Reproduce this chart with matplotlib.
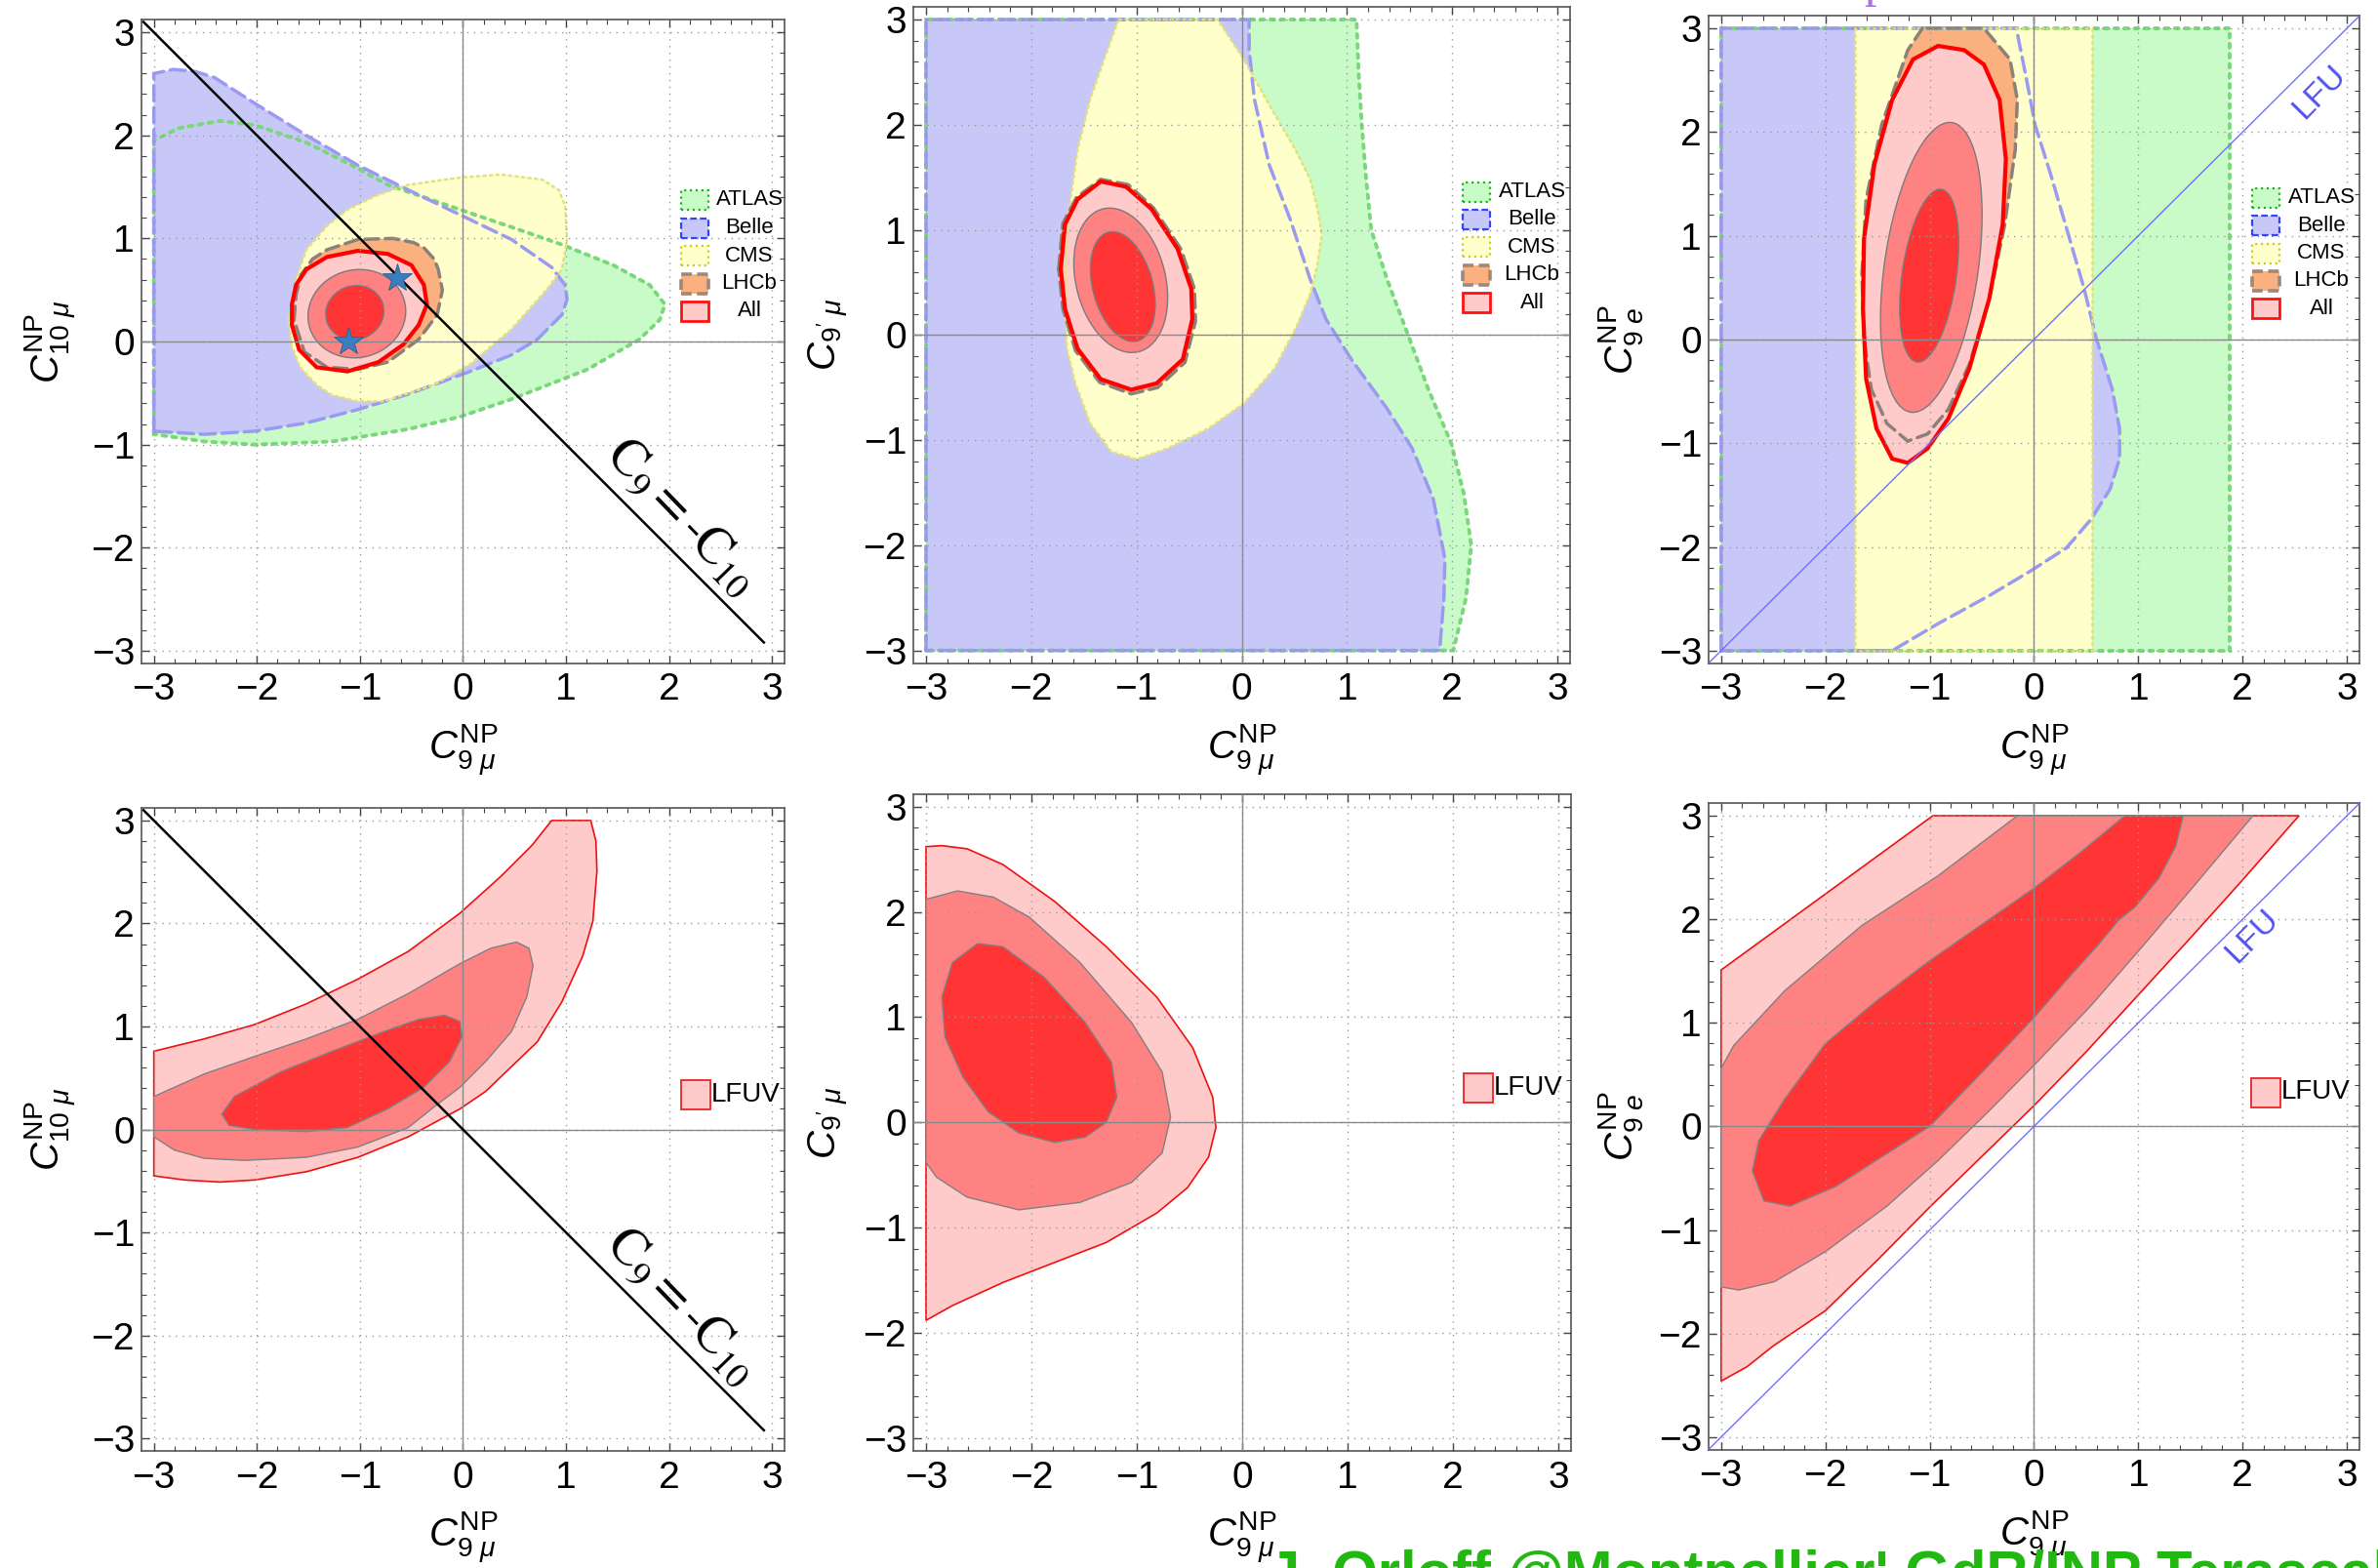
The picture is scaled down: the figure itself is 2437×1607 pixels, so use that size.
import matplotlib.pyplot as plt
from matplotlib.patches import Polygon, Ellipse, Rectangle
from matplotlib.ticker import MultipleLocator

plt.rcParams['font.family'] = ['Liberation Sans', 'DejaVu Sans']
plt.rcParams['mathtext.fontset'] = 'custom'
plt.rcParams['mathtext.rm'] = 'Liberation Sans'
plt.rcParams['mathtext.it'] = 'Liberation Sans:italic'
plt.rcParams['mathtext.bf'] = 'Liberation Sans:bold'

W, H = 2437, 1607

# ---------------- data ----------------
# panel a : C9mu vs C10mu, experiments
atlas_a = [(-3.0, -0.90), (-3.0, 1.95), (-2.76, 2.07), (-2.36, 2.14), (-2.02, 2.10), (-1.52, 1.93),
           (-1.12, 1.73), (-0.73, 1.52), (-0.03, 1.28), (0.47, 1.11), (0.96, 0.94), (1.46, 0.74),
           (1.81, 0.55), (1.96, 0.36), (1.91, 0.21), (1.71, 0.02), (1.21, -0.27), (0.47, -0.56),
           (-0.03, -0.73), (-0.53, -0.85), (-1.27, -0.97), (-2.02, -1.00), (-2.51, -0.97)]
belle_a = [(-3.0, -0.87), (-3.0, 2.60), (-2.81, 2.64), (-2.60, 2.62), (-2.41, 2.56), (-2.02, 2.31),
           (-1.52, 2.00), (-1.02, 1.71), (-0.53, 1.47), (-0.03, 1.23), (0.47, 0.99), (0.86, 0.72),
           (0.99, 0.55), (1.01, 0.41), (0.96, 0.26), (0.72, 0.02), (0.47, -0.13), (0.07, -0.29),
           (-0.53, -0.51), (-1.02, -0.66), (-1.52, -0.79), (-2.02, -0.87), (-2.51, -0.90)]
cms_a = [(-1.69, 0.21), (-1.62, 0.60), (-1.52, 0.89), (-1.32, 1.12), (-1.12, 1.28), (-0.83, 1.42),
         (-0.53, 1.52), (-0.03, 1.59), (0.37, 1.62), (0.77, 1.57), (0.93, 1.47), (0.99, 1.32),
         (1.01, 0.99), (0.96, 0.70), (0.81, 0.50), (0.47, 0.12), (0.07, -0.22), (-0.28, -0.42),
         (-0.77, -0.58), (-1.02, -0.58), (-1.27, -0.52), (-1.42, -0.42), (-1.58, -0.25), (-1.66, -0.05)]
lhcb_a = [(-1.64, 0.21), (-1.62, 0.45), (-1.57, 0.65), (-1.46, 0.80), (-1.32, 0.89), (-1.02, 0.99),
          (-0.68, 1.00), (-0.48, 0.96), (-0.38, 0.91), (-0.28, 0.80), (-0.24, 0.70), (-0.20, 0.50),
          (-0.25, 0.26), (-0.43, 0.02), (-0.73, -0.20), (-1.02, -0.27), (-1.32, -0.25), (-1.54, -0.10)]
all3_a = [(-1.66, 0.36), (-1.62, 0.55), (-1.52, 0.70), (-1.32, 0.82), (-1.02, 0.88), (-0.73, 0.85),
          (-0.50, 0.74), (-0.38, 0.55), (-0.35, 0.36), (-0.43, 0.16), (-0.58, -0.03), (-0.82, -0.20),
          (-1.12, -0.29), (-1.42, -0.25), (-1.59, -0.08), (-1.66, 0.16)]
# inner contours as (centre x, centre y, width, height, angle)
all2_a = (-1.03, 0.27, 0.955, 0.85, 15)
all1_a = (-1.05, 0.28, 0.57, 0.52, 20)
best_x = [-1.11, -0.64]
best_y = [0.00, 0.62]

# panel b : C9mu vs C9'mu
atlas_b = [(-3, -3), (-3, 3), (1.09, 3), (1.11, 2.5), (1.14, 2.0), (1.18, 1.5), (1.23, 1.0), (1.38, 0.53),
           (1.58, 0.0), (1.77, -0.51), (1.99, -1.03), (2.11, -1.51), (2.18, -2.0), (2.13, -2.5), (2.01, -3)]
belle_b = [(-3, -3), (-3, 3), (0.07, 3), (0.07, 2.71), (0.12, 2.24), (0.26, 1.62), (0.46, 1.10),
           (0.65, 0.53), (0.80, 0.15), (1.04, -0.23), (1.38, -0.70), (1.62, -1.08), (1.82, -1.56),
           (1.93, -2.13), (1.92, -2.50), (1.88, -3)]
cms_b = [(-1.17, 3), (-0.23, 3), (0.02, 2.62), (0.26, 2.19), (0.51, 1.76), (0.65, 1.48), (0.72, 1.20),
         (0.76, 0.96), (0.72, 0.67), (0.65, 0.39), (0.51, 0.06), (0.31, -0.32), (0.02, -0.65),
         (-0.32, -0.89), (-0.71, -1.08), (-1.00, -1.18), (-1.24, -1.11), (-1.44, -0.84), (-1.58, -0.46),
         (-1.66, -0.13), (-1.68, 0.34), (-1.66, 1.05), (-1.56, 1.76), (-1.44, 2.24), (-1.29, 2.67)]
lhcb_b = [(-1.74, 0.63), (-1.70, 1.06), (-1.57, 1.31), (-1.34, 1.48), (-1.08, 1.43), (-0.84, 1.21),
          (-0.58, 0.82), (-0.45, 0.44), (-0.44, 0.13), (-0.54, -0.26), (-0.80, -0.50), (-1.05, -0.56),
          (-1.35, -0.45), (-1.58, -0.15), (-1.70, 0.25)]
all3_b = [(-1.72, 0.63), (-1.68, 1.05), (-1.56, 1.29), (-1.34, 1.46), (-1.10, 1.41), (-0.86, 1.20),
          (-0.61, 0.82), (-0.48, 0.44), (-0.47, 0.15), (-0.56, -0.23), (-0.81, -0.46), (-1.05, -0.52),
          (-1.34, -0.42), (-1.56, -0.13), (-1.68, 0.25)]
all2_b = (-1.15, 0.52, 0.85, 1.40, 14)
all1_b = (-1.13, 0.46, 0.57, 1.07, 15)

# panel c : C9mu vs C9e
atlas_c = [(-3, -3), (-3, 3), (1.88, 3), (1.88, -3)]
cms_c = [(-1.72, -3), (-1.72, 3), (0.555, 3), (0.555, -3)]
belle_c = [(-3, -3), (-3, 3), (-0.17, 3), (-0.08, 2.55), (0.01, 2.07), (0.16, 1.59), (0.33, 1.01),
           (0.48, 0.49), (0.60, 0.0), (0.75, -0.48), (0.82, -0.86), (0.82, -1.15), (0.73, -1.44),
           (0.55, -1.73), (0.31, -2.01), (-0.03, -2.23), (-0.43, -2.47), (-0.92, -2.74), (-1.36, -3)]
lhcb_c = [(-1.07, 3), (-1.21, 2.79), (-1.46, 2.07), (-1.61, 1.35), (-1.65, 0.63), (-1.63, 0.0),
          (-1.56, -0.48), (-1.41, -0.81), (-1.21, -0.98), (-1.02, -0.91), (-0.82, -0.67), (-0.62, -0.24),
          (-0.43, 0.39), (-0.28, 1.11), (-0.18, 1.83), (-0.16, 2.31), (-0.23, 2.70), (-0.48, 3)]
all3_c = [(-0.92, 2.83), (-1.16, 2.70), (-1.36, 2.31), (-1.53, 1.69), (-1.63, 0.97), (-1.64, 0.29),
          (-1.61, -0.38), (-1.51, -0.86), (-1.36, -1.15), (-1.21, -1.19), (-1.02, -1.05), (-0.82, -0.76),
          (-0.62, -0.28), (-0.43, 0.39), (-0.30, 1.11), (-0.27, 1.74), (-0.33, 2.31), (-0.48, 2.65),
          (-0.67, 2.79)]
all2_c = (-0.985, 0.695, 0.90, 2.82, -8)
all1_c = (-1.005, 0.615, 0.52, 1.68, -8)

# panel d : LFUV fit, C9mu vs C10mu
lfuv3_d = [(-3, -0.45), (-3, 0.76), (-2.51, 0.88), (-2.02, 1.02), (-1.52, 1.22), (-1.02, 1.46),
           (-0.53, 1.73), (-0.03, 2.10), (0.37, 2.46), (0.67, 2.76), (0.86, 3.0), (1.24, 3.0),
           (1.29, 2.80), (1.30, 2.51), (1.26, 2.02), (1.16, 1.68), (0.96, 1.24), (0.72, 0.85),
           (0.47, 0.61), (0.22, 0.37), (-0.03, 0.20), (-0.53, -0.07), (-1.02, -0.27), (-1.52, -0.41),
           (-2.02, -0.49), (-2.36, -0.51), (-2.70, -0.49)]
lfuv2_d = [(-3, -0.07), (-3, 0.32), (-2.51, 0.54), (-2.02, 0.71), (-1.52, 0.88), (-1.02, 1.07),
           (-0.53, 1.32), (-0.03, 1.61), (0.27, 1.76), (0.52, 1.82), (0.64, 1.76), (0.68, 1.59),
           (0.62, 1.29), (0.47, 0.95), (0.22, 0.66), (-0.03, 0.41), (-0.28, 0.22), (-0.53, 0.02),
           (-1.02, -0.17), (-1.52, -0.27), (-2.12, -0.30), (-2.51, -0.28), (-2.80, -0.20)]
lfuv1_d = [(-2.34, 0.15), (-2.22, 0.32), (-1.77, 0.56), (-1.27, 0.76), (-0.77, 0.95), (-0.43, 1.07),
           (-0.18, 1.11), (-0.03, 1.05), (-0.01, 0.90), (-0.13, 0.66), (-0.38, 0.41), (-0.73, 0.20),
           (-1.12, 0.02), (-1.52, -0.02), (-2.02, 0.00), (-2.27, 0.04)]

# panel e : LFUV fit, C9mu vs C9'mu
lfuv3_e = [(-3, -1.88), (-3, 2.62), (-2.85, 2.63), (-2.61, 2.60), (-2.27, 2.45), (-1.78, 2.10),
           (-1.29, 1.67), (-0.81, 1.19), (-0.47, 0.71), (-0.28, 0.24), (-0.25, -0.05), (-0.32, -0.33),
           (-0.52, -0.62), (-0.81, -0.86), (-1.29, -1.14), (-1.78, -1.33), (-2.27, -1.52), (-2.75, -1.74)]
lfuv2_e = [(-3, -0.38), (-3, 2.12), (-2.70, 2.20), (-2.36, 2.14), (-2.02, 1.95), (-1.54, 1.52),
           (-1.05, 0.95), (-0.76, 0.48), (-0.68, 0.05), (-0.76, -0.29), (-1.05, -0.57), (-1.54, -0.76),
           (-2.12, -0.83), (-2.61, -0.71), (-2.90, -0.52)]
lfuv1_e = [(-2.85, 1.19), (-2.75, 1.52), (-2.51, 1.70), (-2.27, 1.67), (-1.88, 1.38), (-1.49, 0.95),
           (-1.24, 0.57), (-1.19, 0.24), (-1.29, 0.00), (-1.49, -0.14), (-1.78, -0.19), (-2.12, -0.10),
           (-2.41, 0.10), (-2.65, 0.43), (-2.82, 0.81)]

# panel f : LFUV fit, C9mu vs C9e
lfuv3_f = [(-3, -2.46), (-3, 1.51), (-0.97, 3), (2.54, 3), (2.0, 2.38), (1.5, 1.82), (1.0, 1.27),
           (0.5, 0.72), (0.0, 0.20), (-0.5, -0.29), (-1.0, -0.78), (-1.5, -1.29), (-2.0, -1.78),
           (-2.5, -2.12), (-2.75, -2.32)]
lfuv2_f = [(-3, -1.55), (-3, 0.56), (-2.88, 0.78), (-2.39, 1.31), (-1.65, 1.94), (-0.92, 2.42),
           (-0.16, 3), (2.10, 3), (1.54, 2.33), (1.05, 1.75), (0.55, 1.17), (0.0, 0.59), (-0.43, 0.15),
           (-0.92, -0.33), (-1.41, -0.77), (-2.0, -1.21), (-2.49, -1.50), (-2.83, -1.58)]
lfuv1_f = [(0.87, 3), (1.43, 3), (1.36, 2.71), (1.20, 2.40), (0.97, 2.12), (0.81, 1.99), (0.63, 1.77),
           (0.30, 1.40), (0.0, 1.05), (-0.5, 0.52), (-1.0, 0.00), (-1.5, -0.32), (-1.90, -0.58),
           (-2.34, -0.77), (-2.59, -0.72), (-2.70, -0.43), (-2.64, -0.14), (-2.40, 0.25), (-2.0, 0.80),
           (-1.5, 1.22), (-1.0, 1.60), (-0.5, 1.95), (0.0, 2.30), (0.45, 2.65)]

exp_names = ['ATLAS', 'Belle', 'CMS', 'LHCb', 'All']
sm_line = [-3.10, 2.92]       # C9 = -C10 line, x end points
lfu_line = [-3.12, 3.12]

# ---------------- styles ----------------
C_ATLAS, C_BELLE, C_CMS, C_LHCB = '#c9fbc9', '#c8c8f8', '#ffffcc', '#fbb17f'
C3, C2, C1 = '#ffcaca', '#ff8282', '#ff3535'

fig = plt.figure(figsize=(W / 100, H / 100), dpi=100)


def make_axes(rect, ylab):
    ax = fig.add_axes(rect)
    ax.set_xlim(-3.12, 3.12)
    ax.set_ylim(-3.12, 3.12)
    for a in (ax.xaxis, ax.yaxis):
        a.set_major_locator(MultipleLocator(1))
        a.set_minor_locator(MultipleLocator(0.2))
    ax.tick_params(which='both', direction='in', top=True, right=True, color='#444444', labelsize=28)
    ax.tick_params(which='major', length=6, width=1.0)
    ax.tick_params(which='minor', length=3.5, width=0.8)
    ax.tick_params(axis='x', pad=7)
    ax.tick_params(axis='y', pad=5)
    for s in ax.spines.values():
        s.set_color('#555555')
        s.set_linewidth(1.2)
    ax.grid(True, which='major', ls=(0, (1, 4)), color='#999999', lw=1.0)
    ax.set_axisbelow(False)
    ax.axhline(0, color='#8a8a8a', lw=1.0, zorder=2.6)
    ax.axvline(0, color='#8a8a8a', lw=1.0, zorder=2.6)
    ax.set_xlabel(r'$C_{9\ \mu}^{\mathrm{NP}}$', fontsize=29, labelpad=11)
    ax.set_ylabel(ylab, fontsize=29, labelpad=10)
    return ax


def fill(ax, pts, fc, z):
    ax.add_patch(Polygon(pts, closed=True, facecolor=fc, edgecolor='none', zorder=z))


def edge(ax, pts, ec, ls, lw, z):
    p = Polygon(pts, closed=True, fill=False, edgecolor=ec, linestyle=ls, linewidth=lw, zorder=z)
    p.set_capstyle('round')
    ax.add_patch(p)


def ell(ax, e, fc, z):
    ax.add_patch(Ellipse((e[0], e[1]), e[2], e[3], angle=e[4], facecolor=fc,
                         edgecolor='#7a7a7a', lw=1.0, zorder=z))


def experiments(ax, atlas, belle, cms, lhcb, all3, all2, all1):
    fill(ax, atlas, C_ATLAS, 1.00)
    fill(ax, belle, C_BELLE, 1.01)
    fill(ax, cms, C_CMS, 1.02)
    fill(ax, lhcb, C_LHCB, 1.03)
    fill(ax, all3, C3, 1.04)
    edge(ax, atlas, '#7ad87a', ':', 2.8, 1.10)
    edge(ax, belle, '#9a9af0', (0, (4.5, 2)), 2.5, 1.11)
    edge(ax, cms, '#e2e27a', ':', 1.8, 1.12)
    edge(ax, lhcb, '#8d8078', (0, (4, 2)), 2.5, 1.13)
    edge(ax, all3, '#ff0000', '-', 3.0, 1.20)
    ell(ax, all2, C2, 1.30)
    ell(ax, all1, C1, 1.40)


def lfuv(ax, c3, c2, c1):
    ax.add_patch(Polygon(c3, closed=True, facecolor=C3, edgecolor='#ee1111', lw=1.2, zorder=1.0))
    ax.add_patch(Polygon(c2, closed=True, facecolor=C2, edgecolor='#808080', lw=1.0, zorder=1.1))
    ax.add_patch(Polygon(c1, closed=True, facecolor=C1, edgecolor='#808080', lw=1.0, zorder=1.2))


def px_rect(x0, yc, w, h, fc, ec, ls, lw):
    r = Rectangle((x0 / W, 1 - (yc + h / 2) / H), w / W, h / H, transform=fig.transFigure,
                  facecolor=fc, edgecolor=ec, linestyle=ls, linewidth=lw, zorder=5)
    fig.add_artist(r)


def exp_legend(box_x, y0, step, text_x):
    styles = [(C_ATLAS, '#11bb11', ':', 1.6), (C_BELLE, '#3344ff', (0, (3, 1.5)), 1.6),
              (C_CMS, '#cccc22', ':', 1.6), (C_LHCB, '#a08878', (0, (3, 1.5)), 2.6),
              (C3, '#ff1111', '-', 2.0)]
    for i, (name, st) in enumerate(zip(exp_names, styles)):
        yc = y0 + i * step
        px_rect(box_x, yc, 28, 20, *st)
        fig.text(text_x / W, 1 - yc / H, name, fontsize=16, ha='center', va='center')


def lfuv_legend(box_x, yc):
    px_rect(box_x, yc, 30, 30, C3, '#ee2222', '-', 1.3)
    fig.text((box_x + 31) / W, 1 - yc / H, 'LFUV', fontsize=20, ha='left', va='center')


def sm_text(ax, x, y):
    ax.text(x, y, r'$\mathrm{C}_9 = \text{-}\mathrm{C}_{10}$', rotation=-46, ha='center', va='center',
            rotation_mode='anchor', fontsize=38, math_fontfamily='stix', zorder=5)


def lfu_text(ax, x, y):
    ax.text(x, y, 'LFU', rotation=45.5, ha='center', va='center', rotation_mode='anchor',
            fontsize=24, color='#5050f0', zorder=5)


lab10 = r'$C_{10\ \mu}^{\mathrm{NP}}$'
lab9p = r"$C_{9'\ \mu}$"
lab9e = r'$C_{9\ e}^{\mathrm{NP}}$'

# ---- top row ----
axa = make_axes([0.0595, 0.5771, 0.2704, 0.4102], lab10)
experiments(axa, atlas_a, belle_a, cms_a, lhcb_a, all3_a, all2_a, all1_a)
axa.plot(sm_line, [-v for v in sm_line], color='black', lw=1.8, zorder=3)
axa.plot(best_x, best_y, ls='none', marker='*', ms=22, color='#3a7ebf', mec='#2a5e8f', mew=0.6, zorder=4)
sm_text(axa, 2.12, -1.70)
exp_legend(698, 205, 28.5, 768)

axb = make_axes([0.3841, 0.5771, 0.2762, 0.4185], lab9p)
experiments(axb, atlas_b, belle_b, cms_b, lhcb_b, all3_b, all2_b, all1_b)
exp_legend(1499, 196.5, 28.4, 1570)

axc = make_axes([0.7185, 0.5771, 0.2737, 0.4128], lab9e)
experiments(axc, atlas_c, belle_c, cms_c, lhcb_c, all3_c, all2_c, all1_c)
axc.plot(lfu_line, lfu_line, color='#7070ff', lw=1.0, zorder=3)
lfu_text(axc, 2.74, 2.38)
exp_legend(2308, 203, 28.3, 2379)

# ---- bottom row ----
axd = make_axes([0.0595, 0.0747, 0.2704, 0.4099], lab10)
lfuv(axd, lfuv3_d, lfuv2_d, lfuv1_d)
axd.plot(sm_line, [-v for v in sm_line], color='black', lw=1.8, zorder=3)
sm_text(axd, 2.12, -1.72)
lfuv_legend(698, 1122)

axe = make_axes([0.3841, 0.0747, 0.2766, 0.4189], lab9p)
lfuv(axe, lfuv3_e, lfuv2_e, lfuv1_e)
lfuv_legend(1500, 1114.5)

axf = make_axes([0.7185, 0.0756, 0.2737, 0.4121], lab9e)
lfuv(axf, lfuv3_f, lfuv2_f, lfuv1_f)
axf.plot(lfu_line, lfu_line, color='#7070ff', lw=1.0, zorder=3)
lfu_text(axf, 2.09, 1.84)
lfuv_legend(2307, 1119.5)

# slide decorations cut by the picture edges
fig.text(1299 / W, 1 - 1631 / H, "J. Orloff @Montpellier' GdR/INP Terascale", fontsize=43,
         fontweight='bold', color='#22b711', ha='left', va='baseline')
fig.text(1910 / W, 1 + 4 / H, 'p', fontsize=36, family='Liberation Serif', color='#b070e0',
         ha='left', va='baseline')

fig.savefig('out.png', dpi=100)
